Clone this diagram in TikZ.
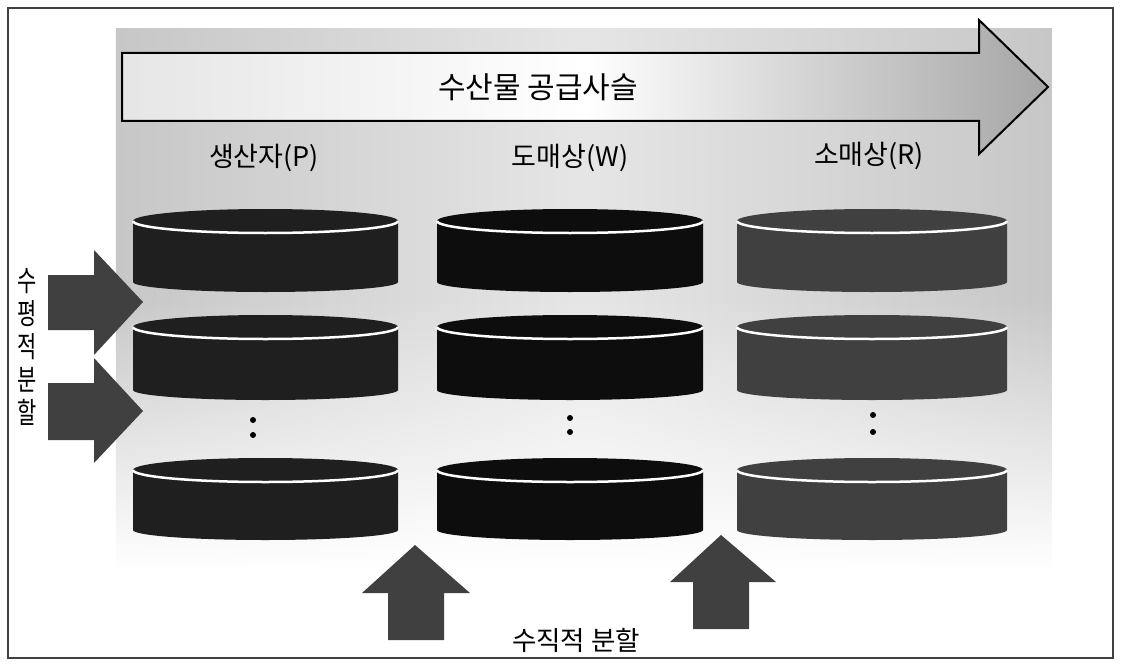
\documentclass[tikz,border=0pt]{standalone}
\usepackage{fontspec}
\usetikzlibrary{fadings}
\setmainfont{Noto Sans CJK KR}
\newfontfamily\narrowkr[FakeStretch=0.72]{Noto Sans CJK KR}
% backdrop fades out towards the bottom
\tikzfading[name=backfade,top color=transparent!0,bottom color=transparent!100,middle color=transparent!0]
% storage drum: #1 centre x, #2 half width, #3 top ellipse centre y, #4 side bottom y, #5 colour
\newcommand{\drum}[5]{%
  \fill[#5] (#1-#2,#3) -- (#1-#2,#4)
    arc[start angle=180,end angle=0,x radius=#2,y radius=10] -- (#1+#2,#3) -- cycle;
  \fill[#5] (#1,#3) ellipse[x radius=#2,y radius=12];
  \draw[white,line width=2.5] (#1-#2,#3)
    arc[start angle=180,end angle=0,x radius=#2,y radius=12];
}
\begin{document}
\begin{tikzpicture}[x=1pt,y=-1pt,
  lbl/.style={inner sep=0pt,font=\fontsize{27}{30}\selectfont},
  blockarrow/.style={fill=black!75},
  gapdot/.style={fill=black}]
\useasboundingbox (0,0) rectangle (1121,666);

% soft grey backdrop
\shade[left color=black!22,right color=black!22,middle color=white!90!black,path fading=backfade]
  (116,28) rectangle (1052,570);

% frame
\draw[black!75,line width=1.5] (8,8) rectangle (1113,658);

% supply-chain arrow
\shade[draw=black,line width=2,left color=black!10,right color=black!35,middle color=white]
  (122,53) -- (979,53) -- (979,20) -- (1048,87) -- (979,154) -- (979,121) -- (122,121) -- cycle;
\node[lbl,font=\fontsize{30}{34}\selectfont] (title) at (538,87) {수산물 공급사슬};

% column headings
\node[lbl] (P) at (264,158) {생산자(P)};
\node[lbl] (W) at (570,158) {도매상(W)};
\node[lbl] (R) at (869,156) {소매상(R)};

% drums, producer column
\drum{265.5}{132.5}{221}{282}{black!88}
\drum{265.5}{132.5}{327}{390}{black!88}
\drum{265.5}{132.5}{470}{530}{black!88}
% drums, wholesaler column
\drum{570}{133}{221}{282}{black!95}
\drum{570}{133}{327}{390}{black!95}
\drum{570}{133}{470}{530}{black!95}
% drums, retailer column
\drum{872}{135}{221}{282}{black!75}
\drum{872}{135}{327}{390}{black!75}
\drum{872}{135}{470}{530}{black!75}

% ellipsis dots
\fill[gapdot] (253,420) circle (3) (253,435) circle (3);
\fill[gapdot] (570,418) circle (3) (570,432) circle (3);
\fill[gapdot] (873,415) circle (3) (873,432) circle (3);

% horizontal partition arrows
\fill[blockarrow] (48,275) -- (94,275) -- (94,250) -- (143,302) -- (94,355) -- (94,330) -- (48,330) -- cycle;
\fill[blockarrow] (48,383) -- (94,383) -- (94,358) -- (143,411) -- (94,463) -- (94,440) -- (48,440) -- cycle;
\node[inner sep=0pt,align=center,font=\narrowkr\fontsize{29}{33}\selectfont] (hsplit) at (27,347) {수\\평\\적\\분\\할};

% vertical partition arrows
\fill[blockarrow] (388,640) -- (388,593) -- (362,593) -- (415,545) -- (470,593) -- (444,593) -- (444,640) -- cycle;
\fill[blockarrow] (693,629) -- (693,582) -- (670,582) -- (721,535) -- (776,582) -- (749,582) -- (749,629) -- cycle;
\node[lbl,font=\fontsize{26.5}{30}\selectfont] (vsplit) at (576,640) {수직적 분할};
\end{tikzpicture}
\end{document}
